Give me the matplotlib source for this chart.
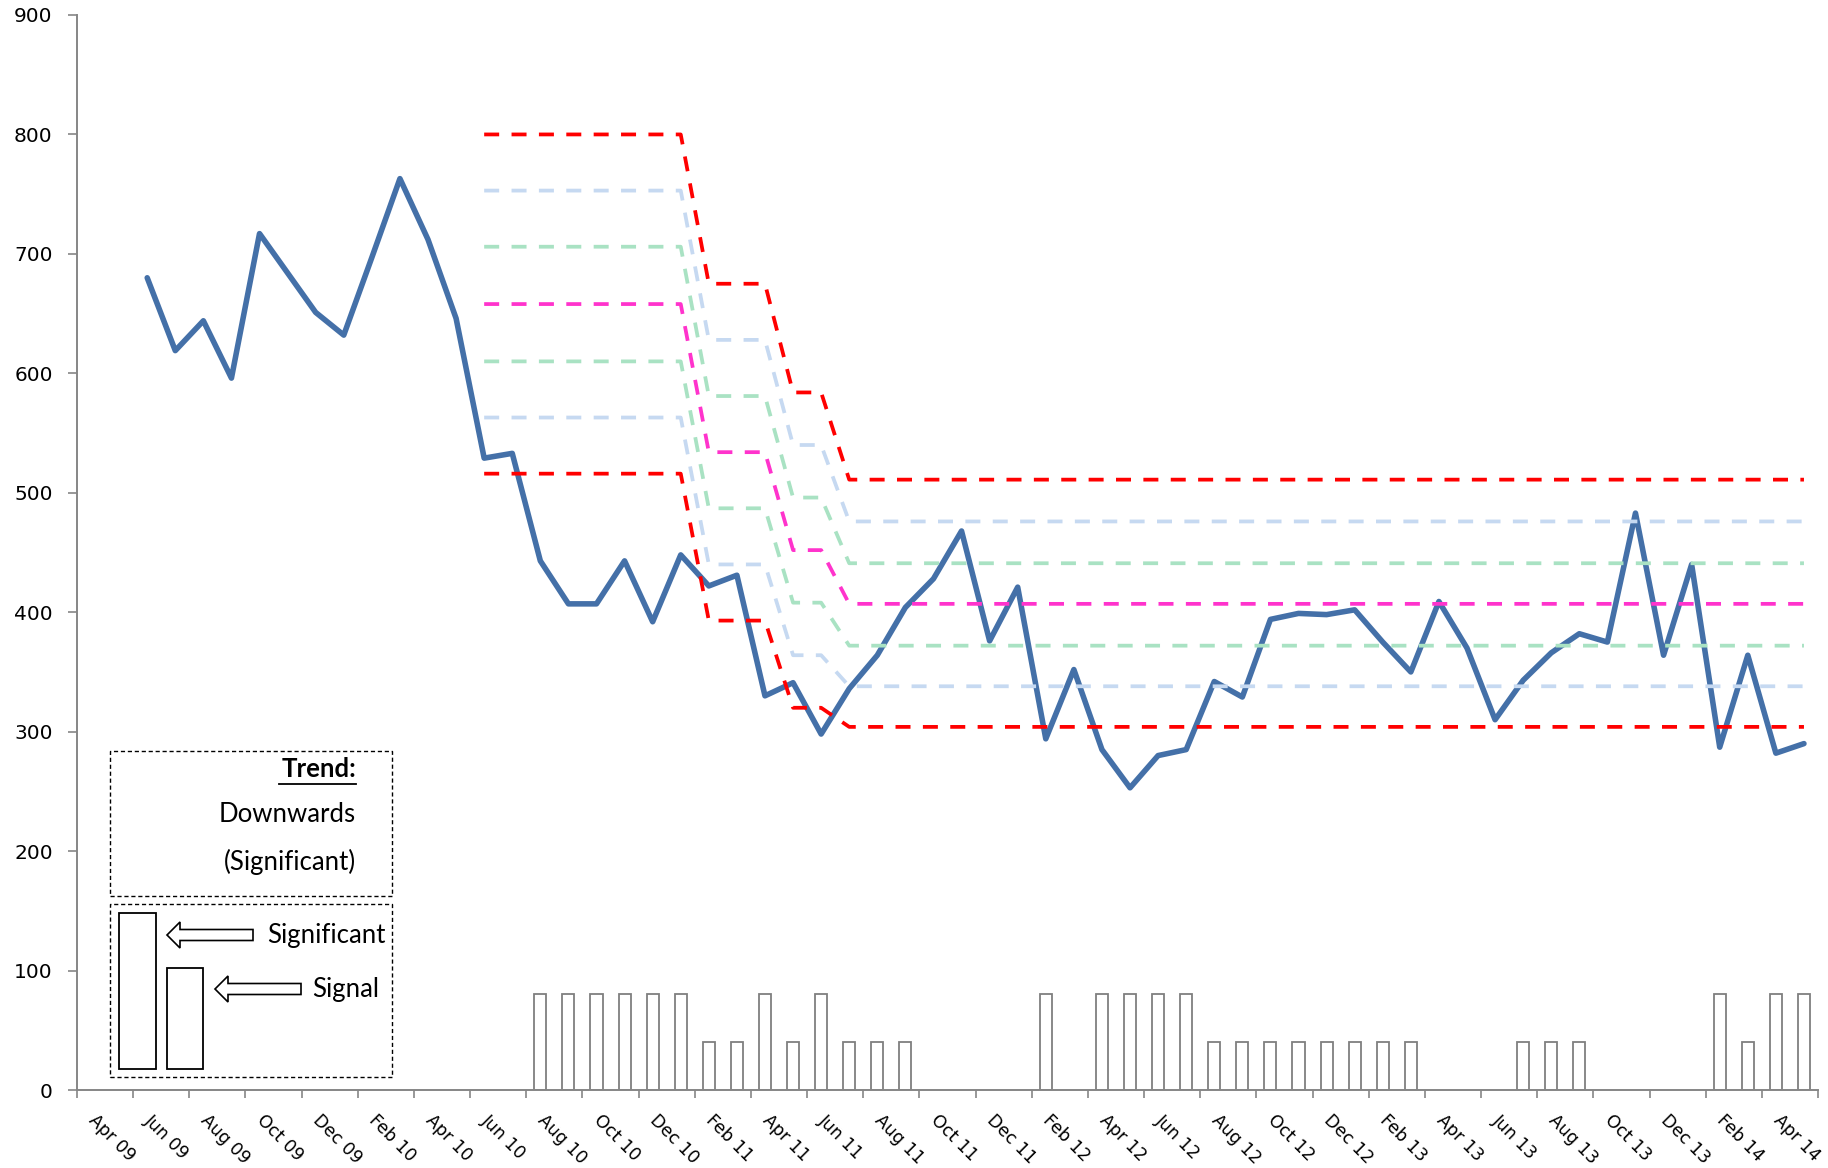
import matplotlib
matplotlib.use('Agg')
import matplotlib.pyplot as plt
from matplotlib.patches import Rectangle, Polygon
from matplotlib.lines import Line2D
import numpy as np

W, H = 1828, 1168

# monthly categories on the x axis
months = ['Apr 09', 'May 09', 'Jun 09', 'Jul 09', 'Aug 09', 'Sep 09', 'Oct 09', 'Nov 09', 'Dec 09',
          'Jan 10', 'Feb 10', 'Mar 10', 'Apr 10', 'May 10', 'Jun 10', 'Jul 10', 'Aug 10', 'Sep 10',
          'Oct 10', 'Nov 10', 'Dec 10',
          'Jan 11', 'Feb 11', 'Mar 11', 'Apr 11', 'May 11', 'Jun 11', 'Jul 11', 'Aug 11', 'Sep 11',
          'Oct 11', 'Nov 11', 'Dec 11',
          'Jan 12', 'Feb 12', 'Mar 12', 'Apr 12', 'May 12', 'Jun 12', 'Jul 12', 'Aug 12', 'Sep 12',
          'Oct 12', 'Nov 12', 'Dec 12',
          'Jan 13', 'Feb 13', 'Mar 13', 'Apr 13', 'May 13', 'Jun 13', 'Jul 13', 'Aug 13', 'Sep 13',
          'Oct 13', 'Nov 13', 'Dec 13',
          'Jan 14', 'Feb 14', 'Mar 14', 'Apr 14', 'May 14']
tick_labels = months[::2]

# measured series, Jun 09 .. May 14
first_month = 'Jun 09'
values = [680, 619, 644, 596, 717, 684, 651, 632, 697, 763, 712, 646,
          529, 533, 443, 407, 407, 443, 392, 448, 422, 431, 330, 341,
          298, 336, 364, 404, 428, 468, 376, 421, 294, 352, 285, 253,
          280, 285, 342, 329, 394, 399, 398, 402, 375, 350, 409, 370,
          310, 343, 366, 382, 375, 483, 364, 440, 287, 364, 282, 290]

# control limit segments: start month, end month, levels (UCL .. LCL)
seg_start = ['Jun 10', 'Feb 11', 'May 11', 'Jul 11']
seg_end = ['Jan 11', 'Apr 11', 'Jun 11', 'May 14']
seg_levels = [
    [800, 753, 706, 658, 610, 563, 516],
    [675, 628, 581, 534, 487, 440, 393],
    [584, 540, 496, 452, 408, 364, 320],
    [511, 476, 441, 407, 372, 338, 304],
]
limit_colors = ['#ff0000', '#c6d9f1', '#a9e2c3', '#ff33cc', '#a9e2c3', '#c6d9f1', '#ff0000']

# signal bars
bar_months = ['Aug 10', 'Sep 10', 'Oct 10', 'Nov 10', 'Dec 10', 'Jan 11', 'Feb 11', 'Mar 11',
              'Apr 11', 'May 11', 'Jun 11', 'Jul 11', 'Aug 11', 'Sep 11',
              'Feb 12', 'Apr 12', 'May 12', 'Jun 12', 'Jul 12', 'Aug 12', 'Sep 12', 'Oct 12',
              'Nov 12', 'Dec 12', 'Jan 13', 'Feb 13', 'Mar 13',
              'Jul 13', 'Aug 13', 'Sep 13',
              'Feb 14', 'Mar 14', 'Apr 14', 'May 14']
bar_heights = [80, 80, 80, 80, 80, 80, 40, 40,
               80, 40, 80, 40, 40, 40,
               80, 80, 80, 80, 80, 40, 40, 40,
               40, 40, 40, 40, 40,
               40, 40, 40,
               80, 40, 80, 80]


def fx(x):
    return x / W


def fy(y):
    return 1 - y / H


fig = plt.figure(figsize=(W / 100, H / 100), dpi=100)
ax = fig.add_axes([fx(77), fy(1090), (1818 - 77) / W, (1090 - 15) / H])

# bars
bx = [months.index(m) for m in bar_months]
ax.bar(bx, bar_heights, width=0.43, facecolor='white', edgecolor='#7f7f7f', linewidth=1.3, zorder=2)

# main line
x0 = months.index(first_month)
xs = np.arange(x0, x0 + len(values))
ax.plot(xs, values, color='#4470a8', lw=4, solid_joinstyle='round', solid_capstyle='round', zorder=3)

# control limits
for k in range(7):
    lx, ly = [], []
    for s, e, lev in zip(seg_start, seg_end, seg_levels):
        for i in range(months.index(s), months.index(e) + 1):
            lx.append(i)
            ly.append(lev[k])
    ax.plot(lx, ly, color=limit_colors[k], lw=2.7, ls=(0, (4, 3.3)), zorder=4)

# axes styling
ax.set_xlim(-0.5, len(months) - 0.5)
ax.set_ylim(0, 900)
ax.set_yticks(range(0, 1000, 100))
for s in ['top', 'right']:
    ax.spines[s].set_visible(False)
for s in ['left', 'bottom']:
    ax.spines[s].set_color('#868686')
    ax.spines[s].set_linewidth(1.4)

ax.tick_params(axis='y', length=6.5, width=1.2, color='#868686', pad=11, labelsize=14.5)
ax.set_xticks(range(0, len(months), 2))
ax.set_xticklabels(tick_labels)
ax.set_xticks(np.arange(-0.5, len(months), 2), minor=True)
ax.tick_params(axis='x', which='major', length=0, pad=20, labelsize=12.5)
ax.tick_params(axis='x', which='minor', length=5.5, width=1.2, color='#868686')
for lab in ax.get_xticklabels():
    lab.set_rotation(-45)
    lab.set_ha('left')
    lab.set_va('center')
    lab.set_rotation_mode('anchor')

#
#   annotation boxes
#
box_ls = (0, (3, 2))
fig.add_artist(Rectangle((fx(110), fy(896)), (392 - 110) / W, (896 - 751) / H,
                         transform=fig.transFigure, fill=False, ec='black', lw=1, ls=box_ls))
fig.add_artist(Rectangle((fx(110), fy(1077)), (392 - 110) / W, (1077 - 904) / H,
                         transform=fig.transFigure, fill=False, ec='black', lw=1, ls=box_ls))

txt = dict(family='Lato', size=18.5, color='black', va='center')
fig.text(fx(356), fy(769), 'Trend:', ha='right', fontweight='bold', **txt)
fig.add_artist(Line2D([fx(279), fx(356)], [fy(784), fy(784)], color='black', lw=1.3,
                      transform=fig.transFigure))
fig.text(fx(356), fy(815), 'Downwards', ha='right', **txt)
fig.text(fx(356), fy(862), '(Significant)', ha='right', **txt)

# legend bars
fig.add_artist(Rectangle((fx(119), fy(1069)), (156 - 119) / W, (1069 - 913) / H,
                         transform=fig.transFigure, fill=False, ec='black', lw=1.3))
fig.add_artist(Rectangle((fx(167), fy(1069)), (203 - 167) / W, (1069 - 968) / H,
                         transform=fig.transFigure, fill=False, ec='black', lw=1.3))


def arrow(tip, tail, cy):
    hl, hh, sh = 13, 13, 5.5
    pts = [(tip, cy), (tip + hl, cy - hh), (tip + hl, cy - sh), (tail, cy - sh),
           (tail, cy + sh), (tip + hl, cy + sh), (tip + hl, cy + hh)]
    fig.add_artist(Polygon([(fx(px), fy(py)) for px, py in pts], closed=True,
                           transform=fig.transFigure, fill=False, ec='black', lw=1.2))


arrow(167, 253, 935)
arrow(215, 301, 989)
fig.text(fx(267), fy(935), 'Significant', ha='left', **txt)
fig.text(fx(312), fy(989), 'Signal', ha='left', **txt)

fig.savefig('out.png', dpi=100, facecolor='white')
